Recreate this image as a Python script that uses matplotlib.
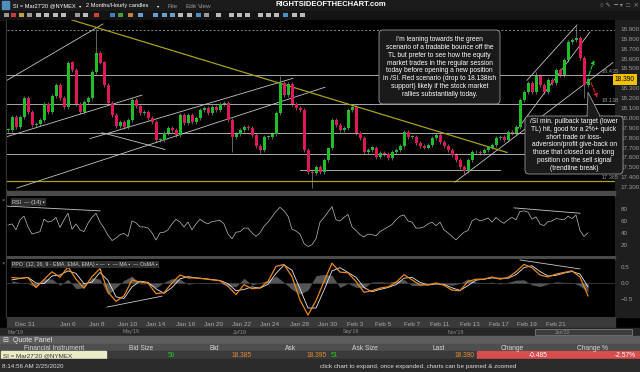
import matplotlib
matplotlib.use("Agg")
import matplotlib.pyplot as plt
from matplotlib.patches import Rectangle, FancyBboxPatch, Polygon

W, H = 640, 372
plt.rcParams['font.family'] = ['Liberation Sans', 'DejaVu Sans']

# hourly /SI closes, one value per ~6 hours
closes = [17.88, 18.01, 17.91, 18.01, 18.20, 18.06, 17.93, 17.94, 17.98, 18.14,
          18.06, 18.22, 18.33, 18.20, 18.11, 18.56, 18.48, 18.14, 18.06, 18.16,
          18.20, 18.46, 18.66, 18.56, 18.33, 18.15, 18.03, 17.92, 17.96, 17.91,
          17.98, 18.18, 18.12, 18.05, 18.06, 18.00, 17.96, 17.78, 17.78, 17.85,
          17.90, 17.88, 17.83, 18.03, 17.95, 18.03, 17.96, 18.00, 18.08, 18.10,
          18.05, 18.11, 18.08, 18.14, 18.15, 17.98, 17.81, 17.84, 17.88, 17.91,
          17.90, 17.83, 17.72, 17.67, 17.81, 17.81, 17.84, 18.05, 18.35, 18.23,
          18.34, 18.14, 18.10, 18.08, 17.67, 17.45, 17.44, 17.50, 17.45, 17.57,
          17.69, 17.98, 17.93, 17.88, 17.90, 18.08, 18.11, 17.85, 17.80, 17.65,
          17.67, 17.70, 17.60, 17.64, 17.63, 17.59, 17.65, 17.67, 17.72, 17.86,
          17.81, 17.81, 17.75, 17.72, 17.70, 17.73, 17.80, 17.83, 17.76, 17.72,
          17.67, 17.62, 17.57, 17.50, 17.46, 17.57, 17.65, 17.65, 17.64, 17.67,
          17.70, 17.73, 17.80, 17.81, 17.78, 17.86, 17.85, 17.91, 18.18, 18.26,
          18.35, 18.26, 18.42, 18.33, 18.26, 18.38, 18.35, 18.48, 18.43, 18.59,
          18.77, 18.79, 18.81, 18.61, 18.33, 18.39]
spike_highs = {22: 18.90, 68: 18.42, 132: 18.46, 142: 18.93}
spike_lows = {56: 17.65, 63: 17.64, 76: 17.29, 114: 17.43, 144: 18.20}

rsi = [53, 55, 45, 62, 68, 50, 38, 40, 42, 63, 58, 60, 66, 49, 62, 73, 46, 55, 45, 42,
       56, 66, 73, 58, 48, 36, 27, 31, 37, 39, 34, 60, 57, 50, 50, 48, 40, 28, 40, 41,
       45, 55, 63, 58, 50, 58, 45, 55, 63, 58, 55, 59, 60, 61, 55, 38, 30, 41, 42, 48,
       48, 40, 34, 40, 51, 58, 67, 76, 83, 77, 68, 46, 43, 38, 22, 17, 20, 30, 58, 66,
       75, 84, 62, 60, 66, 71, 50, 44, 37, 33, 38, 37, 35, 42, 46, 50, 54, 62, 68, 70,
       60, 58, 48, 48, 50, 55, 58, 52, 58, 45, 40, 34, 28, 35, 41, 44, 60, 64, 60, 62,
       65, 58, 66, 60, 56, 62, 66, 62, 76, 77, 75, 63, 67, 55, 52, 59, 60, 64, 63, 62,
       68, 64, 70, 44, 34, 40]

# PPO (orange) and its MA (white), every second candle
ppo = [0.17, 0.15, 0.17, -0.14, 0.11, 0.35, 0.18, 0.50, 0.12, -0.16,
       0.20, 0.45, -0.28, -0.57, -0.40, 0.10, 0.03, 0.00, -0.33, -0.30,
       0.00, 0.25, 0.16, 0.16, 0.13, 0.10, 0.07, -0.10, -0.36, -0.05,
       -0.18, -0.15, 0.05, 0.52, 0.58, 0.20, -0.53, -1.00, -0.55, 0.05,
       0.62, 0.34, 0.32, 0.05, -0.29, -0.24, -0.16, -0.12, 0.02, 0.26,
       0.10, -0.06, -0.06, 0.00, -0.07, -0.22, -0.24, 0.05, 0.12, 0.12,
       0.19, 0.12, 0.17, 0.35, 0.58, 0.48, 0.25, 0.19, 0.28, 0.33,
       0.38, 0.19, -0.40]
ppo_ma = [0.10, 0.14, 0.18, 0.00, -0.02, 0.22, 0.25, 0.38, 0.30, -0.02,
          0.03, 0.33, 0.08, -0.43, -0.48, -0.12, 0.06, 0.02, -0.18, -0.32,
          -0.14, 0.13, 0.20, 0.16, 0.14, 0.11, 0.08, -0.02, -0.24, -0.20,
          -0.12, -0.16, -0.04, 0.30, 0.56, 0.40, -0.18, -0.78, -0.78, -0.22,
          0.38, 0.48, 0.33, 0.18, -0.14, -0.27, -0.20, -0.14, -0.05, 0.15,
          0.18, 0.02, -0.06, -0.03, -0.04, -0.15, -0.23, -0.08, 0.09, 0.12,
          0.16, 0.15, 0.15, 0.26, 0.48, 0.54, 0.36, 0.22, 0.24, 0.31,
          0.36, 0.28, -0.12]
ppo_idx = list(range(1, 146, 2))

date_labels = ["Dec 31", "Jan 6", "Jan 8", "Jan 10", "Jan 14", "Jan 16", "Jan 20",
               "Jan 22", "Jan 24", "Jan 28", "Jan 30", "Feb 3", "Feb 5", "Feb 7",
               "Feb 11", "Feb 13", "Feb 17", "Feb 19", "Feb 21"]
date_pos = [4.3, 15, 22.3, 29.8, 36.8, 44.3, 51.3, 58.5, 65.5, 73, 79.8, 86.8,
            93.8, 101, 108, 115.5, 122.8, 129.8, 137]

price_ticks = [17.3, 17.4, 17.5, 17.6, 17.7, 17.8, 17.9, 18.0, 18.1, 18.2, 18.3,
               18.5, 18.6, 18.7, 18.8, 18.9]
levels = [18.435, 18.138, 17.85, 17.63]
support = 17.365
top_line = 18.89
level_tags = {"18.435": 18.435, "18.138": 18.138, "17.365": 17.365}
last_price = 18.390

# trendlines (candle index, price)
gray_tl = [(-0.25, 18.38, 23.75, 18.95), (-0.25, 17.81, 33.5, 18.23),
           (23.5, 17.85, 39.25, 17.68), (20.5, 17.79, 71.25, 18.40),
           (2.25, 17.29, 79.25, 18.31), (129.75, 18.38, 142.25, 18.94),
           (127.25, 17.88, 145.5, 18.87), (111.75, 17.35, 151.25, 18.56),
           (73, 17.47, 123, 17.47)]
yellow_tl = [(16, 18.99, 124.75, 17.65)]
rsi_tl = [(-0.25, 85, 23, 77), (126.5, 82, 143, 73)]
ppo_tl = [(24.75, -0.75, 38.5, -0.41), (128, 0.72, 143, 0.44)]

notes_1 = ("I'm leaning towards the green\nscenario of a tradable bounce off the\n"
           "TL but prefer to see how the equity\nmarket trades in the regular session\n"
           "today before opening a new position\nin /SI. Red scenario (drop to 18.138ish\n"
           "support) likely if the stock market\nrallies substantially today.")
notes_2 = ("/SI min. pullback target (lower\nTL) hit, good for a 2%+ quick\n"
           "short trade or loss-\nadversion/profit give-back on\n"
           "those that closed out a long\nposition on the sell signal\n(trendline break)")


def rect(x0, y0, x1, y1):
    return [x0 / W, 1 - y1 / H, (x1 - x0) / W, (y1 - y0) / H]


fig = plt.figure(figsize=(W / 100, H / 100), dpi=100, facecolor="black")

# chrome in pixel coordinates
bg = fig.add_axes([0, 0, 1, 1])
bg.set_xlim(0, W)
bg.set_ylim(H, 0)
bg.axis("off")
bg.add_patch(Rectangle((0, 0), W, 11, color="#1b1b1b"))
bg.add_patch(Rectangle((0, 11), W, 9, color="#141414"))
bg.add_patch(Rectangle((615, 20), 25, 297, color="#1e1e1e"))
bg.add_patch(Rectangle((6, 20), 1, 297, color="#333333"))
bg.add_patch(Rectangle((7, 191), 608, 5, color="#4a4a4a"))
bg.add_patch(Rectangle((7, 256), 608, 3, color="#4a4a4a"))
bg.add_patch(Rectangle((7, 317), 608, 11, color="#3a3a3a"))
bg.add_patch(Rectangle((0, 328), W, 8, color="#262626"))
bg.add_patch(Rectangle((535, 329), 97, 6, facecolor="#3c3c3c", edgecolor="#8a8a8a", lw=0.5))
bg.add_patch(Rectangle((0, 336), W, 8, color="#5e5e5e"))
bg.add_patch(Rectangle((0, 344), W, 7, color="#4e4e4e"))
bg.add_patch(Rectangle((0, 351), W, 8, color="#3a3a3a"))
bg.add_patch(Rectangle((1, 351), 105, 8, color="#ecebc8"))
bg.add_patch(Rectangle((477, 351), 163, 8, color="#d64d4d"))
bg.add_patch(Rectangle((0, 359), W, 13, color="#2a2a2a"))

bg.add_patch(Rectangle((2, 1), 7, 8, color="#4f8fc0"))
bg.text(13, 6, "SI = Mar27'20 @NYMEX", color="white", fontsize=4.1, va="center")
bg.text(79, 6.5, "\u25be", color="white", fontsize=3.2, va="center")
bg.text(86, 6, "2 Months/Hourly candles", color="white", fontsize=4.1, va="center")
bg.text(157, 6.5, "\u25be", color="white", fontsize=3.2, va="center")
for xt, t in [(168, "File"), (185, "Edit"), (198, "View")]:
    bg.text(xt, 6, t, color="#9a9a9a", fontsize=4.6, va="center")
bg.text(331, 5, "RIGHTSIDEOFTHECHART.com", color="white", fontsize=5.5,
        fontweight="bold", ha="center", va="center")
bg.text(600, 5.5, "\u25cb \u270e  \u2501 \u25be  \u25a1  \u2715", color="#8a8a8a",
        fontsize=4.5, va="center", ha="left")
tool_cols = ["#9a9a9a", "#c04040", "#c0a040", "#9a9a9a", "#bbbbbb", "#bbbbbb",
             "#bbbbbb", "#bbbbbb", "#9a9a9a", "#bbbbbb", "#d04040", "#4080c0",
             "#40a040", "#c08040", "#6aa0d0", "#6aa0d0", "#6aa0d0", "#6aa0d0",
             "#bbbbbb", "#bbbbbb", "#4a90c0", "#9a9a9a", "#bbbbbb", "#bbbbbb",
             "#bbbbbb", "#bbbbbb", "#bbbbbb", "#bbbbbb", "#bbbbbb", "#4a90c0",
             "#bbbbbb", "#bbbbbb"]
tool_x = [4, 11, 19, 27, 36, 44, 53, 61, 75, 83, 94, 110, 118, 128, 138, 153, 162,
          170, 178, 187, 196, 204, 216, 229, 237, 245, 258, 266, 274, 283, 292, 300, 313]
for xt, c in zip(tool_x, tool_cols):
    bg.add_patch(Rectangle((xt, 12.5), 4.5, 4.5, color=c, lw=0))

for xt, t in [(8, "Mar'19"), (123, "May'19"), (233, "Jul'19"), (343, "Sep'19"),
              (448, "Nov'19"), (555, "Jan'20")]:
    bg.text(xt, 332, t, color="#8c8c8c", fontsize=3.8, va="center")
bg.text(3, 340, "\u229f  Quote Panel", color="#e6e6e6", fontsize=5, va="center")
for xt, t in [(54, "Financial Instrument"), (141, "Bid Size"), (214, "Bid"),
              (291, "Ask"), (365, "Ask Size"), (439, "Last"), (512, "Change"),
              (592, "Change %")]:
    bg.text(xt, 348, t, color="#d8d8d8", fontsize=4.8, va="center", ha="center")
bg.text(3, 355.5, "SI = Mar27'20 @NYMEX", color="#333333", fontsize=4.5, va="center")
row_vals = [(171, "50", "#22c822", "center"), (252, "18.385", "#e58a32", "right"),
            (327, "18.395", "#e58a32", "right"), (331, "51", "#22c822", "left"),
            (475, "18.390", "#e58a32", "right"), (538, "-0.485", "white", "center"),
            (636, "-2.57%", "white", "right")]
for xt, t, c, ha in row_vals:
    bg.text(xt, 355.5, t, color=c, fontsize=4.8, va="center", ha=ha)
bg.text(2, 366.5, "8:14:56 AM 2/25/2020", color="#dcdcdc", fontsize=4.5, va="center")
bg.text(320, 366.5, "click chart to expand, once expanded, charts can be panned & zoomed",
        color="#dcdcdc", fontsize=4.5, va="center")

# price panel
ax = fig.add_axes(rect(7, 20, 615, 190), facecolor="black")
xmin, xmax = -0.25, 151.75
opens = [closes[0]] + closes[:-1]
for i, (o, c) in enumerate(zip(opens, closes)):
    hi = spike_highs.get(i, max(o, c) + 0.02)
    lo = spike_lows.get(i, min(o, c) - 0.02)
    col = "#1fbf2a" if c >= o else "#e0185a"
    ax.vlines(i, lo, hi, color="#b0b0b0", lw=0.4, zorder=3)
    ax.bar(i, max(abs(c - o), 0.008), bottom=min(o, c), width=0.75, color=col,
           lw=0, zorder=4)
for lv in levels:
    ax.axhline(lv, color="#a8a8a8", lw=0.7, zorder=2)
ax.axhline(top_line, color="#8a8a8a", lw=0.7, ls=(0, (2, 2)), zorder=2)
ax.axhline(support, color="#a6a21a", lw=0.9, zorder=2)
for x0, y0, x1, y1 in gray_tl:
    ax.plot([x0, x1], [y0, y1], color="#c4c4c4", lw=0.6, zorder=2)
for x0, y0, x1, y1 in yellow_tl:
    ax.plot([x0, x1], [y0, y1], color="#a6a21a", lw=0.9, zorder=2)
for t, v in level_tags.items():
    ax.text(148.3, v + 0.035, t, color="#9a9a9a", fontsize=4, ha="left", va="center",
            zorder=6, clip_on=False)
ax.annotate("", xy=(146.8, 18.61), xytext=(145, 18.41),
            arrowprops=dict(arrowstyle="-|>", color="#22cc22", lw=0.8, ls="--",
                            mutation_scale=5), zorder=6)
ax.annotate("", xy=(147.6, 18.18), xytext=(145.5, 18.38),
            arrowprops=dict(arrowstyle="-|>", color="#e02020", lw=0.8, ls="--",
                            mutation_scale=5), zorder=6)
ax.set_xlim(xmin, xmax)
ax.set_ylim(17.27, 18.99)
ax.yaxis.tick_right()
ax.set_yticks(price_ticks)
ax.set_yticklabels(["%.3f" % p for p in price_ticks])
ax.tick_params(axis="y", colors="#9a9a9a", labelsize=4.5, length=0, pad=4)
ax.set_xticks([])
for s in ax.spines.values():
    s.set_visible(False)
ax.text(1.0, (last_price - 17.27) / (18.99 - 17.27), "%.3f" % last_price,
        transform=ax.transAxes, fontsize=4.8, color="black", va="center", ha="left",
        bbox=dict(boxstyle="square,pad=0.3", fc="#f2c200", ec="none"), zorder=7,
        clip_on=False)

# RSI panel
ra = fig.add_axes(rect(7, 196, 615, 256), facecolor="black")
ra.plot(range(len(rsi)), rsi, color="#bdbdbd", lw=0.5)
for x0, y0, x1, y1 in rsi_tl:
    ra.plot([x0, x1], [y0, y1], color="#c8c8c8", lw=0.6)
ra.set_xlim(xmin, xmax)
ra.set_ylim(1, 102)
ra.yaxis.tick_right()
ra.set_yticks([20, 40, 60, 80])
ra.tick_params(axis="y", colors="#9a9a9a", labelsize=4.5, length=0, pad=4)
ra.set_xticks([])
for s in ra.spines.values():
    s.set_visible(False)
ra.text(0.008, 0.9, "RSI  \u2014 (14) \u25aa", transform=ra.transAxes, color="#d0d0d0",
        fontsize=4, va="center", bbox=dict(boxstyle="square,pad=0.2", fc="#2e2e2e", ec="none"))

# PPO panel
pa = fig.add_axes(rect(7, 259, 615, 317), facecolor="black")
hist = [p - m for p, m in zip(ppo, ppo_ma)]
pa.fill_between(ppo_idx, 0, hist, color="#555555", lw=0)
pa.axhline(0, color="#444444", lw=0.5)
pa.plot(ppo_idx, ppo_ma, color="#e8e8e8", lw=0.6)
pa.plot(ppo_idx, ppo, color="#e8891c", lw=0.9)
for x0, y0, x1, y1 in ppo_tl:
    pa.plot([x0, x1], [y0, y1], color="#c8c8c8", lw=0.6)
pa.set_xlim(xmin, xmax)
pa.set_ylim(-1.06, 0.75)
pa.yaxis.tick_right()
pa.set_yticks([-0.5, 0.0, 0.5])
pa.tick_params(axis="y", colors="#9a9a9a", labelsize=4.5, length=0, pad=4)
pa.set_xticks(date_pos)
pa.set_xticklabels(date_labels)
pa.tick_params(axis="x", colors="#a8a8a8", labelsize=4.6, length=0, pad=3.5)
for s in pa.spines.values():
    s.set_visible(False)
pa.text(0.008, 0.9, "PPO  (12, 26, 9 - EMA, EMA, EMA) \u25aa \u2014  \u25aa  \u2014 MA \u25aa  \u2014 OsMA \u25aa",
        transform=pa.transAxes, color="#d0d0d0", fontsize=3.8, va="center",
        bbox=dict(boxstyle="square,pad=0.2", fc="#2e2e2e", ec="none"))

# annotation boxes on top
ov = fig.add_axes([0, 0, 1, 1], facecolor="none")
ov.set_xlim(0, W)
ov.set_ylim(H, 0)
ov.axis("off")
ov.add_patch(FancyBboxPatch((379, 30), 121, 74, boxstyle="round,pad=0,rounding_size=4",
                            fc="#1a1a1a", ec="#9a9a9a", lw=0.6))
ov.text(439.5, 67, notes_1, color="white", fontsize=4.8, ha="center", va="center",
        linespacing=1.18)
tip = ax.transData.transform((145, 18.26))
tail = Polygon([(587, 116), (tip[0], H - tip[1]), (600, 116)], closed=False,
               fc="#1a1a1a", ec="#9a9a9a", lw=0.6)
ov.add_patch(tail)
ov.add_patch(FancyBboxPatch((525, 116), 98, 58, boxstyle="round,pad=0,rounding_size=4",
                            fc="#1a1a1a", ec="#9a9a9a", lw=0.6))
ov.add_patch(Rectangle((588, 114), 11, 3, fc="#1a1a1a", ec="none"))
ov.text(574, 145, notes_2, color="white", fontsize=4.8, ha="center", va="center",
        linespacing=1.18)
for yy in (200, 263):
    ov.text(3.5, yy, "\u00d7", color="#9a9a9a", fontsize=4, ha="center", va="center")

fig.savefig("out.png", dpi=100, facecolor="black")
